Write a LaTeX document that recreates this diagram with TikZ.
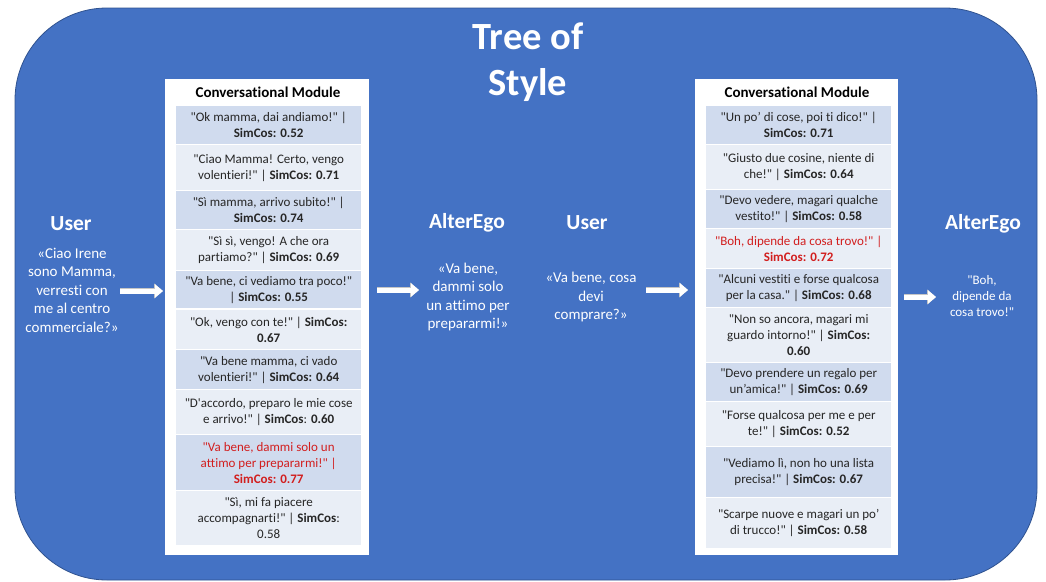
\documentclass[tikz,border=0pt]{standalone}
\usepackage{fontspec}
\newfontfamily\carl[Ligatures=NoCommon]{Carlito}
\usetikzlibrary{arrows.meta}
\definecolor{bgblue}{HTML}{4472C4}
\definecolor{bgedge}{HTML}{2F528F}
\definecolor{bandD}{HTML}{D0DBEE}
\definecolor{bandL}{HTML}{E9EEF6}
\definecolor{txt}{HTML}{262626}
\definecolor{redt}{RGB}{210,30,30}
\begin{document}
\begin{tikzpicture}[x=1pt,y=-1pt,
  cellbase/.style={anchor=north west, minimum width=185pt, inner sep=0pt, align=center, text=txt, font=\carl\fontsize{13}{16}\selectfont},
  cellD/.style={cellbase, fill=bandD},
  cellL/.style={cellbase, fill=bandL},
  modbox/.style={fill=white, anchor=north west, minimum width=204pt, minimum height=476pt, inner sep=0pt},
  modtitle/.style={text=black, font=\carl\bfseries\fontsize{15}{18}\selectfont},
  heading/.style={text=white, font=\carl\bfseries\fontsize{21.5}{26}\selectfont},
  speech/.style={text=white, align=center, font=\carl\fontsize{15}{18.5}\selectfont},
  blockarrow/.style={draw=white, line width=5pt, -{Triangle[length=8pt,width=13pt]},
    preaction={draw=gray!45, line width=6.4pt, -{Triangle[length=9pt,width=14.6pt]}}}
]
\useasboundingbox (0,0) rectangle (1046,581);
\draw[fill=bgblue, draw=bgedge, line width=0.8pt, rounded corners=92pt] (15,8) rectangle (1037,580);

\node[text=white, align=center, font=\carl\bfseries\fontsize{38.5}{46}\selectfont] (title) at (528,62) {Tree of\\Style};

% left side
\node[heading] (u1h) at (71,224) {User};
\node[speech] (u1t) at (72,290) {«Ciao Irene\\sono Mamma,\\verresti con\\me al centro\\commerciale?»};

% left module
\node[modbox] (LM) at (165,79) {};
\node[modtitle] (LMt) at (268,92) {Conversational Module};
\node[cellD, minimum height=38pt] (L1) at (176,106) {"Ok mamma, dai andiamo!" |\\\textbf{SimCos: 0.52}};
\node[cellL, minimum height=45pt] (L2) at (176,145) {"Ciao Mamma! Certo, vengo\\volentieri!" | \textbf{SimCos: 0.71}};
\node[cellD, minimum height=38pt] (L3) at (176,191) {"Sì mamma, arrivo subito!" |\\\textbf{SimCos: 0.74}};
\node[cellL, minimum height=40pt] (L4) at (176,230) {"Sì sì, vengo! A che ora\\partiamo?" | \textbf{SimCos: 0.69}};
\node[cellD, minimum height=37pt] (L5) at (176,271) {"Va bene, ci vediamo tra poco!"\\| \textbf{SimCos: 0.55}};
\node[cellL, minimum height=39pt] (L6) at (176,310) {"Ok, vengo con te!" | \textbf{SimCos:}\\\textbf{0.67}};
\node[cellD, minimum height=39pt] (L7) at (176,350) {"Va bene mamma, ci vado\\volentieri!" | \textbf{SimCos: 0.64}};
\node[cellL, minimum height=44pt] (L8) at (176,390) {"D'accordo, preparo le mie cose\\e arrivo!" | \textbf{SimCos}: \textbf{0.60}};
\node[cellD, minimum height=55pt, text=redt] (L9) at (176,435) {"Va bene, dammi solo un\\attimo per prepararmi!" |\\\textbf{SimCos: 0.77}};
\node[cellL, minimum height=54pt] (L10) at (176,491) {"Sì, mi fa piacere\\accompagnarti!" | \textbf{SimCos}:\\0.58};

% middle
\node[heading] (a1h) at (467,223) {AlterEgo};
\node[speech] (a1t) at (468,297) {«Va bene,\\dammi solo\\un attimo per\\prepararmi!»};
\node[heading] (u2h) at (587,223) {User};
\node[speech] (u2t) at (591,297) {«Va bene, cosa\\devi\\comprare?»};

% right module
\node[modbox, minimum width=203pt] (RM) at (695,79) {};
\node[modtitle] (RMt) at (797,92) {Conversational Module};
\node[cellD, minimum height=38pt] (R1) at (706,106) {"Un po’ di cose, poi ti dico!" |\\\textbf{SimCos: 0.71}};
\node[cellL, minimum height=44pt] (R2) at (706,145) {"Giusto due cosine, niente di\\che!" | \textbf{SimCos: 0.64}};
\node[cellD, minimum height=38pt] (R3) at (706,190) {"Devo vedere, magari qualche\\vestito!" | \textbf{SimCos: 0.58}};
\node[cellL, minimum height=39pt, text=redt] (R4) at (706,229) {"Boh, dipende da cosa trovo!" |\\\textbf{SimCos: 0.72}};
\node[cellD, minimum height=38pt] (R5) at (706,269) {"Alcuni vestiti e forse qualcosa\\per la casa." | \textbf{SimCos: 0.68}};
\node[cellL, minimum height=54pt] (R6) at (706,308) {"Non so ancora, magari mi\\guardo intorno!" | \textbf{SimCos:}\\\textbf{0.60}};
\node[cellD, minimum height=38pt] (R7) at (706,363) {"Devo prendere un regalo per\\un’amica!" | \textbf{SimCos: 0.69}};
\node[cellL, minimum height=44pt] (R8) at (706,402) {"Forse qualcosa per me e per\\te!" | \textbf{SimCos: 0.52}};
\node[cellD, minimum height=50pt] (R9) at (706,447) {"Vediamo lì, non ho una lista\\precisa!" | \textbf{SimCos: 0.67}};
\node[cellL, minimum height=50pt] (R10) at (706,498) {"Scarpe nuove e magari un po’\\di trucco!" | \textbf{SimCos: 0.58}};

% right side
\node[heading] (a2h) at (983,224) {AlterEgo};
\node[speech, font=\carl\fontsize{13}{16}\selectfont] (a2t) at (982,296) {"Boh,\\dipende da\\cosa trovo!"};

% arrows
\coordinate (a1s) at (120,291); \coordinate (a1e) at (163,291);
\coordinate (a2s) at (377,290); \coordinate (a2e) at (419,290);
\coordinate (a3s) at (646,290); \coordinate (a3e) at (688,290);
\coordinate (a4s) at (904,297); \coordinate (a4e) at (936,297);
\draw[blockarrow] (a1s) -- (a1e);
\draw[blockarrow] (a2s) -- (a2e);
\draw[blockarrow] (a3s) -- (a3e);
\draw[blockarrow] (a4s) -- (a4e);
\end{tikzpicture}
\end{document}
